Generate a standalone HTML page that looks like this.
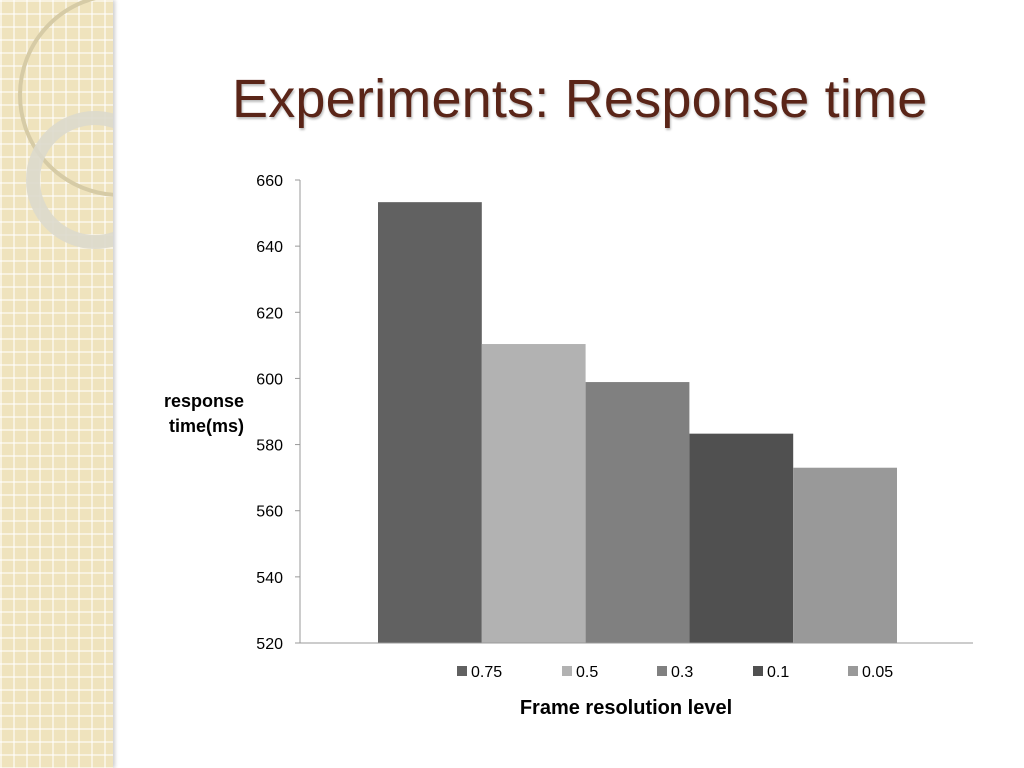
<!DOCTYPE html>
<html><head><meta charset="utf-8"><style>
body{margin:0;width:1024px;height:768px;overflow:hidden;background:#fff;font-family:"Liberation Sans",sans-serif;position:relative}
#panel{position:absolute;left:0;top:0;width:113px;height:768px;background-color:#efe3bd;
background-image:linear-gradient(#fff8 2px,transparent 2px),linear-gradient(90deg,#fff8 2px,transparent 2px);background-size:13px 13px;box-shadow:2px 0 4px #ccc}
h1{position:absolute;left:232px;top:68px;margin:0;font-family:"Liberation Sans",sans-serif;font-weight:normal;font-size:54px;color:#5a2518;letter-spacing:0.2px;text-shadow:1px 2px 2px #bbb}
</style></head><body>
<div id="panel">
<svg width="113" height="768" style="position:absolute;left:0;top:0">
<circle cx="120" cy="95" r="100" fill="none" stroke="#d6cba6" stroke-width="4"/>
<circle cx="95" cy="180" r="62" fill="none" stroke="#dcd9cc" stroke-width="14" opacity="0.9"/>
</svg></div>
<h1>Experiments: Response time</h1>
<svg id="chart" width="1024" height="768" style="position:absolute;left:0;top:0"></svg>
<script>
const categories=["0.75","0.5","0.3","0.1","0.05"];
const values=[653.3,610.4,598.9,583.3,573.0];
const colors=["#616161","#b2b2b2","#808080","#505050","#999999"];
const ticks=[520,540,560,580,600,620,640,660];
const svg=document.getElementById('chart');
const NS="http://www.w3.org/2000/svg";
const x0=300,x1=973,yTop=180,yBot=643,vmin=520,vmax=660;
const y=v=>yBot-(v-vmin)/(vmax-vmin)*(yBot-yTop);
function mk(t,a,txt){const e=document.createElementNS(NS,t);for(const k in a)e.setAttribute(k,a[k]);if(txt!=null)e.textContent=txt;svg.appendChild(e);return e;}
const bw=103.8,gx=637.5-bw*categories.length/2;
values.forEach((v,i)=>{const r=mk('rect',{x:gx+i*bw,y:y(v),width:bw,height:yBot-y(v),fill:colors[i]});

});
const ax=mk('line',{x1:x0,y1:yTop,x2:x0,y2:yBot,stroke:'#999','stroke-width':1});


const bx=mk('line',{x1:x0,y1:yBot,x2:x1,y2:yBot,stroke:'#999','stroke-width':1});


ticks.forEach(t=>{mk('line',{x1:x0-5,y1:y(t),x2:x0,y2:y(t),stroke:'#999'});
const l=mk('text',{x:283,y:y(t)+6,'text-anchor':'end','font-size':16,fill:'#000'},t);

});
const yt=mk('text',{x:244,y:407,'text-anchor':'end','font-size':18,'font-weight':'bold'},'response');


mk('text',{x:244,y:432,'text-anchor':'end','font-size':18,'font-weight':'bold'},'time(ms)');
const lx=[457,562,657,753,848];
categories.forEach((c,i)=>{mk('rect',{x:lx[i],y:666,width:10,height:10,fill:colors[i]});
const t=mk('text',{x:lx[i]+14,y:677,'font-size':16},c);

});
const xt=mk('text',{x:626,y:714,'text-anchor':'middle','font-size':20,'font-weight':'bold'},'Frame resolution level');


</script>
</body></html>
